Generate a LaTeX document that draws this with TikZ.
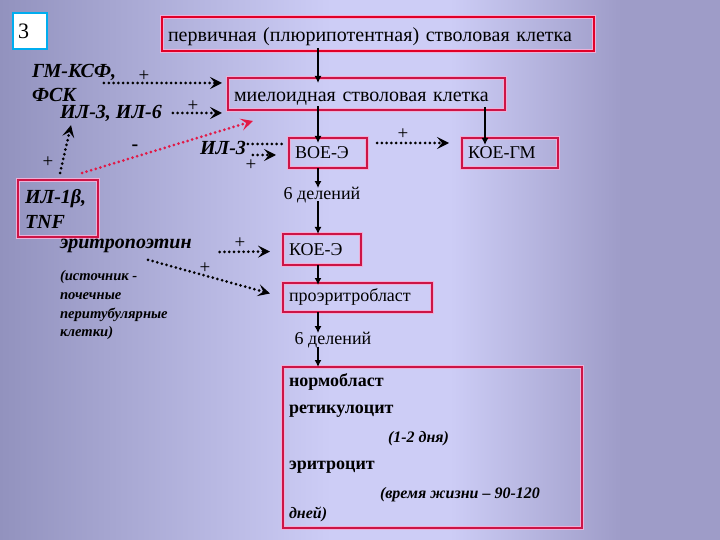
\documentclass[tikz,border=0pt]{standalone}
\usepackage{fontspec}
\setmainfont{Liberation Serif}
\usetikzlibrary{arrows.meta,calc}
\definecolor{bgA}{RGB}{146,146,190}
\definecolor{bgB}{RGB}{205,205,246}
\definecolor{bgC}{RGB}{158,156,200}
\definecolor{boxred}{RGB}{205,20,70}
\definecolor{topred}{RGB}{225,0,40}
\definecolor{glow}{RGB}{238,175,215}
\definecolor{dotred}{RGB}{225,25,70}
\begin{document}
\begin{tikzpicture}[x=1pt,y=-1pt,
  every node/.style={inner sep=0pt, outer sep=0pt},
  cbox/.style={draw=boxred, line width=1.2pt, preaction={draw=glow,line width=3.6pt},
    rectangle, anchor=north west, inner xsep=6pt, inner ysep=0pt, align=left,
    font=\fontsize{18}{22}\selectfont},
  capbox/.style={cbox, text height=12pt, text depth=0pt},
  lowbox/.style={cbox, text height=8.5pt, text depth=0pt},
  vtxt/.style={font=\fontsize{18}{22}\selectfont},
  bi/.style={font=\fontsize{20}{25}\selectfont\bfseries\itshape, anchor=west},
  srct/.style={font=\fontsize{14.6}{19}\selectfont\bfseries\itshape, anchor=west},
  bt/.style={font=\fontsize{18}{22}\selectfont\bfseries, anchor=west},
  bti/.style={font=\fontsize{16}{20}\selectfont\bfseries\itshape, anchor=west},
  pl/.style={font=\fontsize{19}{19}\selectfont},
  varr/.style={-{Latex[length=7pt,width=7pt]}, line width=1.5pt, black},
  dline/.style={line width=3pt, dash pattern=on 0pt off 4.8pt, line cap=round},
  darr/.style={dline, -{Stealth[length=12pt,width=12pt,inset=5pt]}},
]
\useasboundingbox (0,0) rectangle (720,540);
% background
\fill[left color=bgA,right color=bgB] (0,0) rectangle (331,540);
\fill[bgB] (330,0) rectangle (451,540);
\fill[left color=bgB,right color=bgC] (450,0) rectangle (621,540);
\fill[bgC] (620,0) rectangle (720,540);

% number box
\node[draw=cyan, line width=2.5pt, fill=white, anchor=north west, text width=24pt,
  inner xsep=5pt, minimum height=36pt, align=left, font=\fontsize{22}{22}\selectfont] (num) at (13,13) {3};

% boxes
\node[lowbox, draw=topred, line width=2.2pt, text width=420pt, minimum height=34pt,
  text height=15pt, font=\fontsize{20}{24}\selectfont] (top) at (162,17)
  {первичная (плюрипотентная) стволовая клетка};
\node[lowbox, text width=265pt, minimum height=32pt, text height=15pt,
  font=\fontsize{20}{24}\selectfont] (mye) at (228,78) {миелоидная стволовая клетка};
\node[capbox, text width=66pt, minimum height=30pt] (boe) at (289,138) {ВОЕ-Э};
\node[capbox, text width=84pt, minimum height=30pt] (koegm) at (462,138) {КОЕ-ГМ};
\node[capbox, text width=66pt, minimum height=31pt] (koee) at (283,234) {КОЕ-Э};
\node[lowbox, text width=137pt, minimum height=29pt] (pro) at (283,283) {проэритробласт};
\node[cbox, minimum width=299pt, minimum height=161pt, inner xsep=0pt] (bot) at (283,367) {};
\node[cbox, text width=66pt, inner xsep=7pt, minimum height=57pt,
  font=\fontsize{20}{25}\selectfont\bfseries\itshape] (il1) at (18,180) {ИЛ-1β,\\TNF};

% axis coordinates
\coordinate (ax) at (318,0);
\coordinate (ax2) at (485,0);

% cell-line texts
\node[vtxt] (d1) at (322,195) {6 делений};
\node[vtxt] (d2) at (333,340) {6 делений};
\node[bt] (nb) at (289,382) {нормобласт};
\node[bt] (ret) at (289,411) {ретикулоцит};
\node[bti] (ret2) at (388,439) {(1-2 дня)};
\node[bt] (ery) at (289,467) {эритроцит};
\node[bti] (ery2) at (380,495) {(время жизни – 90-120};
\node[bti] (ery3) at (289,514) {дней)};

% factor labels
\node[bi] (gm) at (32,72) {ГМ-КСФ,};
\node[bi] (fsk) at (32,95) {ФСК};
\node[bi] (il36) at (60,113) {ИЛ-3, ИЛ-6};
\node[bi] (il3) at (200,148) {ИЛ-3};
\node[bi] (epo) at (60,246) {эритропоэтин};
\node[srct] (s1) at (60,277) {(источник -};
\node[srct] (s2) at (60,296) {почечные};
\node[srct] (s3) at (60,315) {перитубулярные};
\node[srct] (s4) at (60,333) {клетки)};
\node[font=\fontsize{20}{20}\selectfont\bfseries] (minus) at (135,148) {-};

% plus signs
\node[pl] (p1) at (144,76) {+};
\node[pl] (p2) at (193,106) {+};
\node[pl] (p3) at (403,134) {+};
\node[pl] (p4) at (48,162) {+};
\node[pl] (p5) at (251,165) {+};
\node[pl] (p6) at (240,243) {+};
\node[pl] (p7) at (205,268) {+};

% vertical arrows
\draw[varr] ([yshift=3pt]top.south -| ax) -- ([yshift=-5pt]mye.north -| ax);
\draw[varr] ([yshift=4pt]mye.south -| ax) -- ([yshift=-5pt]boe.north -| ax);
\draw[varr] ([yshift=3pt]mye.south -| ax2) -- ([yshift=-7pt]koegm.north -| ax2);
\draw[varr] (boe.south -| ax) -- ([yshift=-1pt]d1.north -| ax);
\draw[varr] ([yshift=2pt]d1.south -| ax) -- (koee.north -| ax);
\draw[varr] (koee.south -| ax) -- ([yshift=-2pt]pro.north -| ax);
\draw[varr] (pro.south -| ax) -- ([yshift=-1pt]d2.north -| ax);
\draw[varr] ([yshift=1pt]d2.south -| ax) -- (bot.north -| ax);

% dotted regulation arrows
\draw[darr] ($(gm.east)+(-12,11)$) -- ($(mye.west)+(-6,-11)$);
\draw[darr] ($(il36.east)+(11,0)$) -- ($(mye.south west)+(-6,3)$);
\draw[darr] ($(il1.north west)+(42,-7)$) -- ($(il36.south west)+(11,4)$);
\draw[darr, dotred, preaction={draw=glow, line width=4pt, dash pattern=on 0pt off 4.8pt}] ($(il1.north west)+(64,-7)$) -- ($(mye.south west)+(25,11)$);
\draw[dline] ($(il3.east)+(2,-4)$) -- ($(boe.west)+(-7,-9)$);
\draw[darr] ($(il3.east)+(7,7)$) -- ($(boe.west)+(-13,2)$);
\draw[darr] ($(boe.east)+(10,-10)$) -- ($(koegm.west)+(-13,-10)$);
\draw[darr] ($(epo.east)+(28,6)$) -- ($(koee.west)+(-13,2)$);
\draw[darr] ($(epo.south west)+(88,7)$) -- ($(pro.west)+(-13,-4)$);
\end{tikzpicture}
\end{document}
